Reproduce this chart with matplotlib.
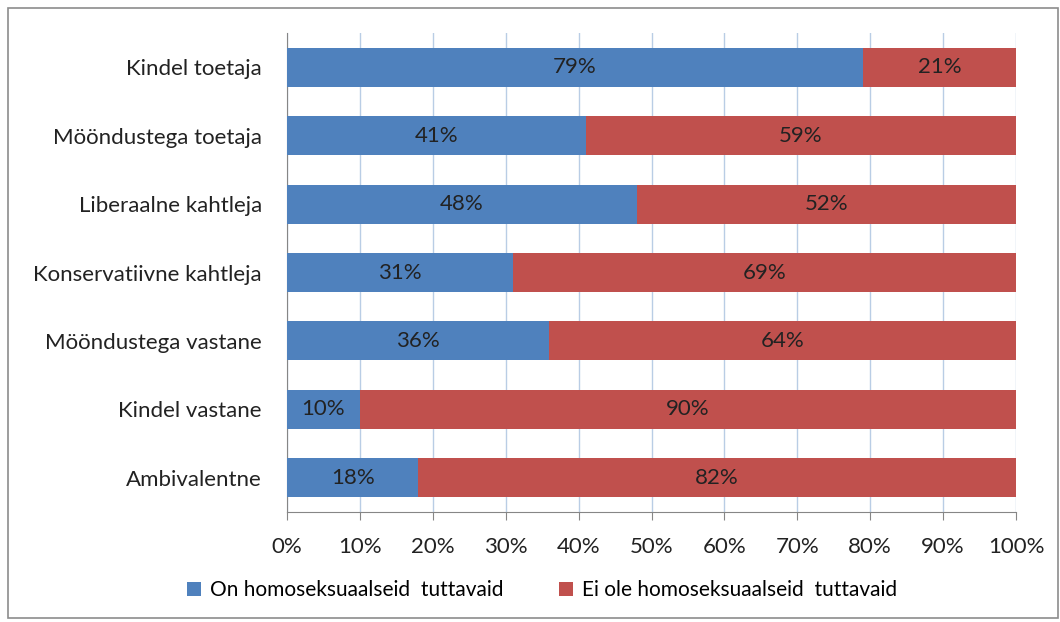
import numpy as np
import matplotlib.pyplot as plt
from matplotlib.patches import Rectangle

categories = ["Kindel toetaja", "Mööndustega toetaja", "Liberaalne kahtleja",
              "Konservatiivne kahtleja", "Mööndustega vastane", "Kindel vastane",
              "Ambivalentne"]
on_tuttavaid = [79, 41, 48, 31, 36, 10, 18]
ei_tuttavaid = [21, 59, 52, 69, 64, 90, 82]
series_names = ["On homoseksuaalseid  tuttavaid", "Ei ole homoseksuaalseid  tuttavaid"]
ticks = [0, 10, 20, 30, 40, 50, 60, 70, 80, 90, 100]

blue = "#4F81BD"
red = "#C0504D"
plt.rcParams['font.family'] = ['Lato', 'DejaVu Sans']

fig = plt.figure(figsize=(10.6, 6.22), dpi=100)
fig.patches.append(Rectangle((8/1060, 4/622), 1050/1060, 610/622, transform=fig.transFigure,
                             fill=False, edgecolor="#8c8c8c", linewidth=1.2))
ax = fig.add_axes([287/1060, 1-512/622, 729/1060, 479/622])

y = np.arange(len(categories))
ax.barh(y, on_tuttavaid, height=0.57, color=blue, label=series_names[0], zorder=3)
ax.barh(y, ei_tuttavaid, left=on_tuttavaid, height=0.57, color=red, label=series_names[1], zorder=3)

for i in range(len(categories)):
    ax.text(on_tuttavaid[i]/2, y[i], f"{on_tuttavaid[i]}%", ha="center", va="center",
            fontsize=16, color="#222222", zorder=4)
    ax.text(on_tuttavaid[i] + ei_tuttavaid[i]/2, y[i], f"{ei_tuttavaid[i]}%", ha="center",
            va="center", fontsize=16, color="#222222", zorder=4)

ax.set_xlim(0, 100)
ax.set_ylim(len(categories)-0.5, -0.5)
ax.set_yticks(y)
ax.set_yticklabels(categories, fontsize=16, color="#222222")
ax.set_xticks(ticks)
ax.set_xticklabels([f"{t}%" for t in ticks], fontsize=16, color="#222222")
ax.tick_params(axis="y", length=0, pad=18)
ax.tick_params(axis="x", length=6, color="#868686", pad=12, direction="out")
ax.xaxis.grid(True, color="#b9cde5", linewidth=1, zorder=0)
for s in ["top", "right"]:
    ax.spines[s].set_visible(False)
for s in ["left", "bottom"]:
    ax.spines[s].set_color("#868686")

fig.legend(loc="center", bbox_to_anchor=(542/1060, 1-590/622), ncol=2, frameon=False,
           fontsize=15, handlelength=0.67, handleheight=0.67, columnspacing=2.7, handletextpad=0.4)

fig.savefig("out.png", dpi=100)
